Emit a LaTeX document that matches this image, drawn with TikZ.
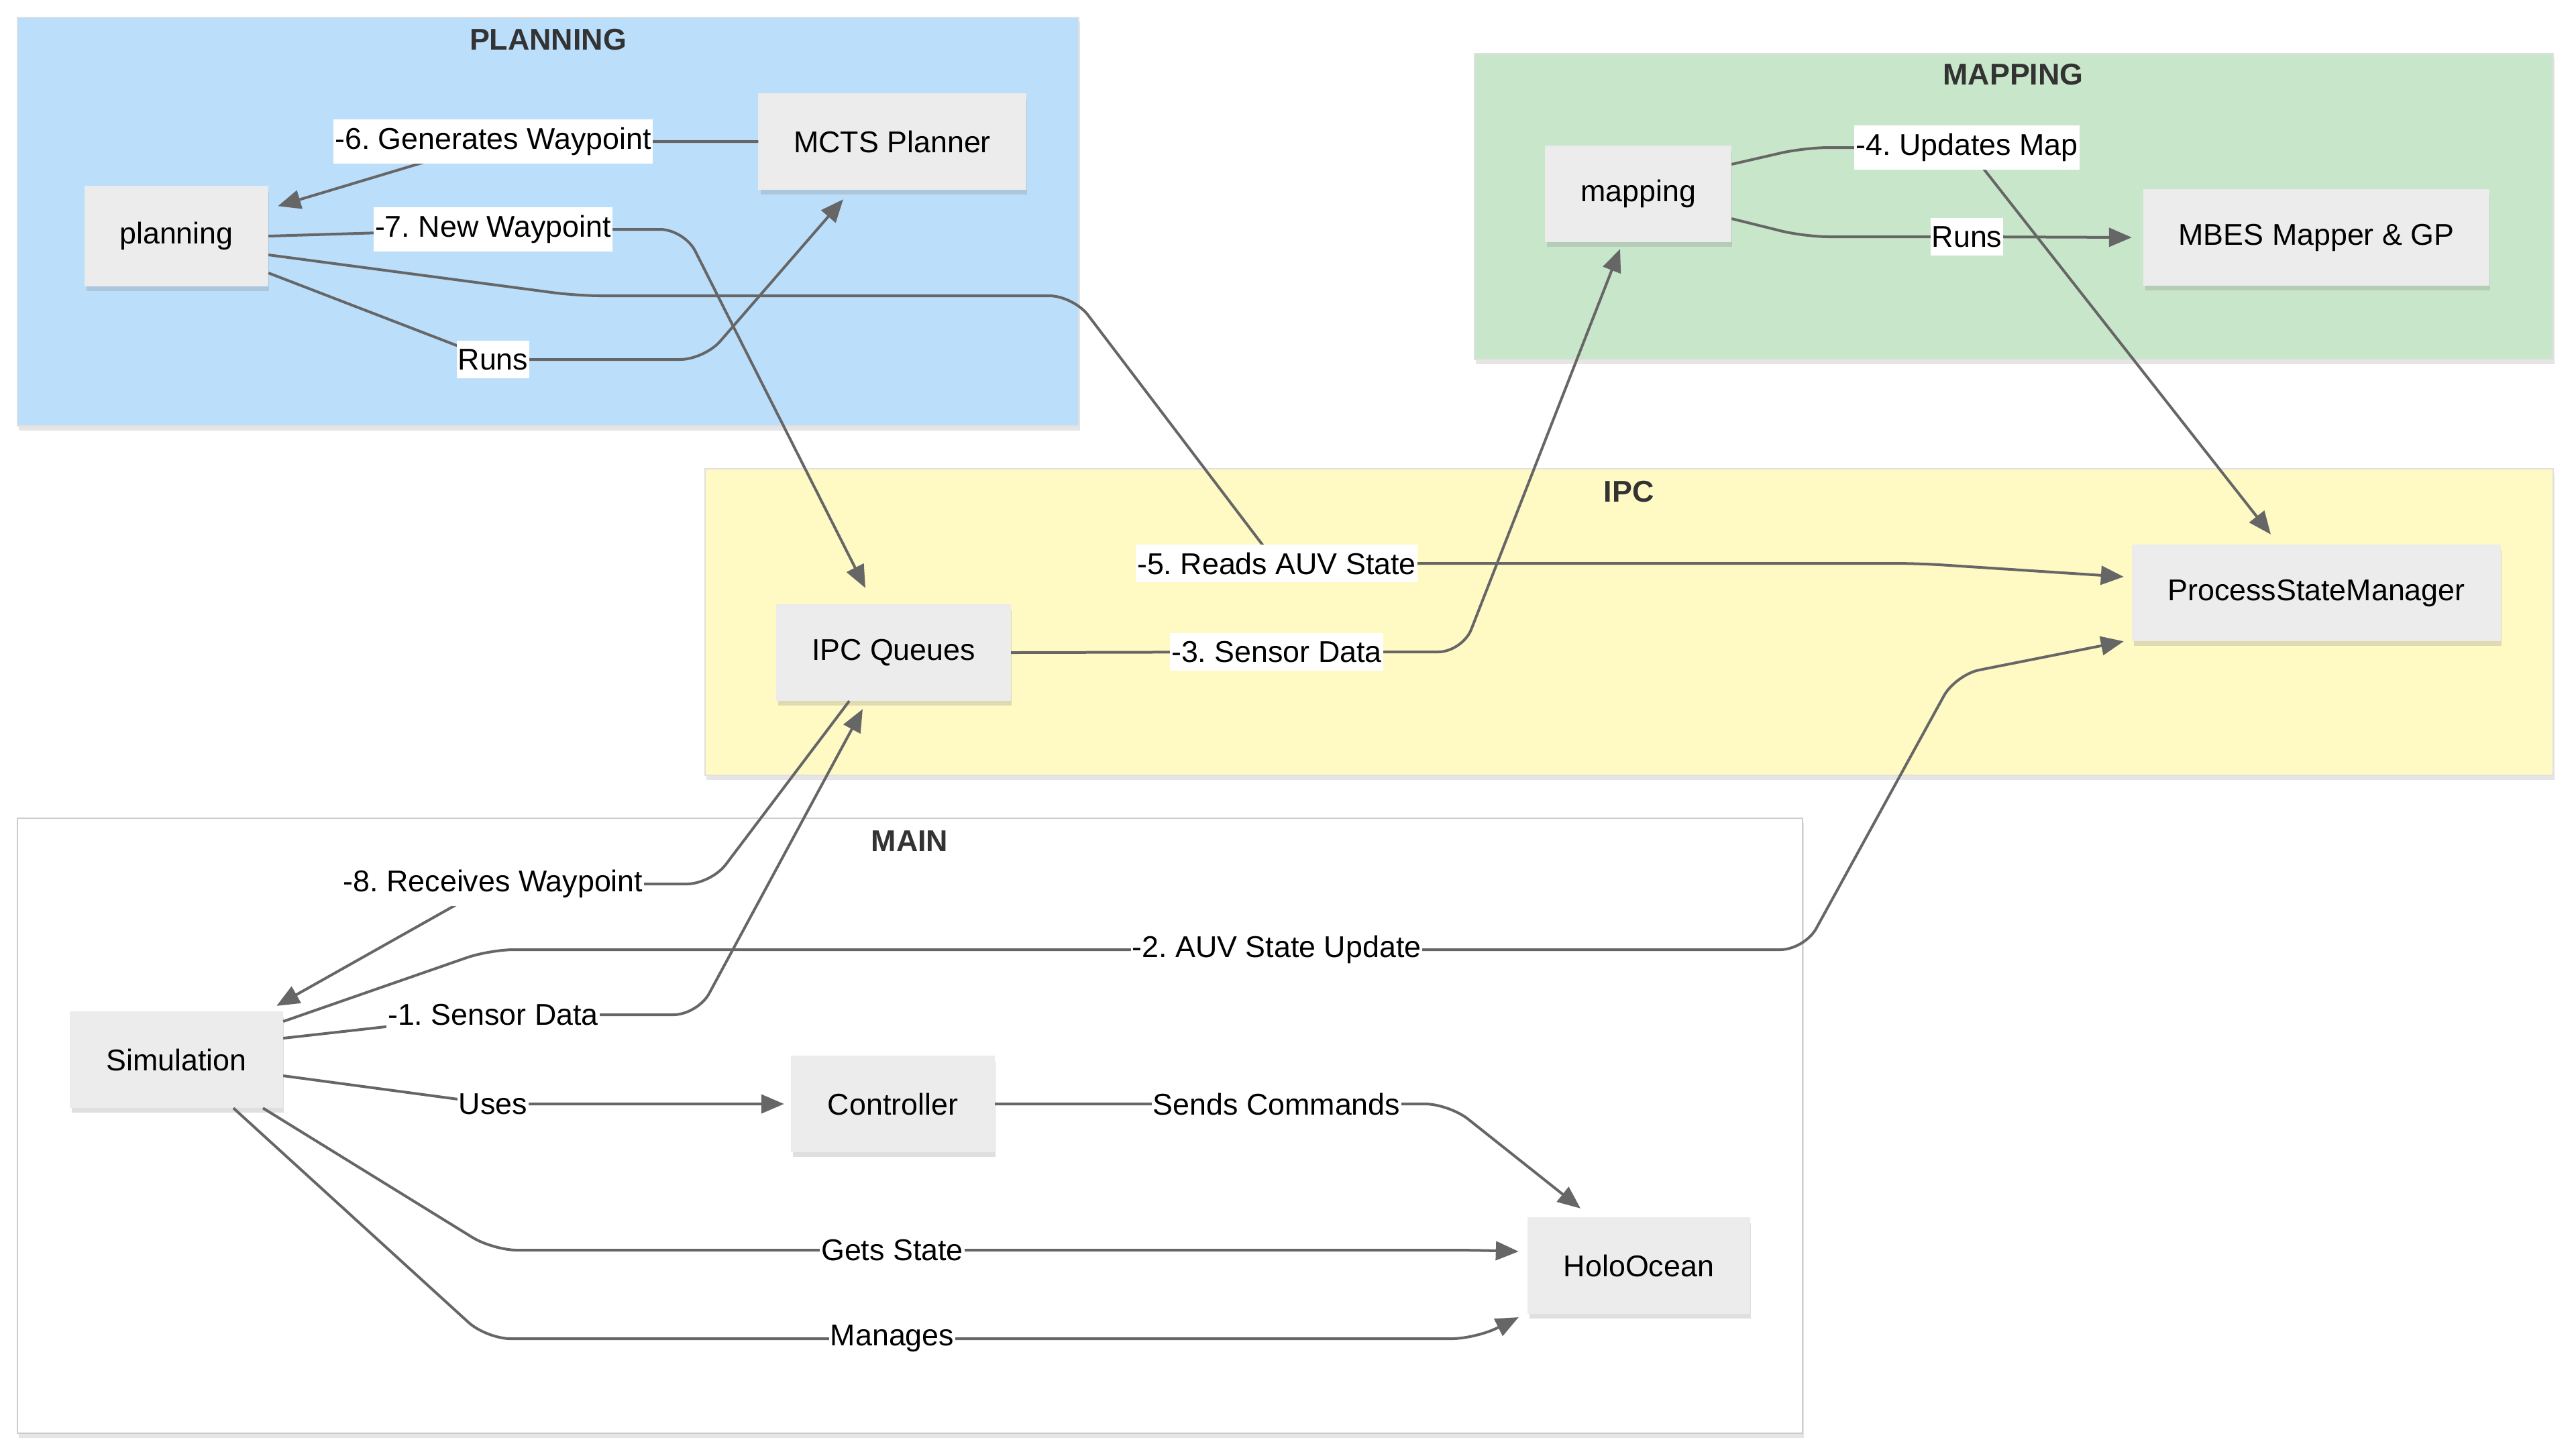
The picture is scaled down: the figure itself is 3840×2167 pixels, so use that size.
\documentclass[tikz,border=0pt]{standalone}
\usepackage{fontspec}
\setmainfont{Liberation Sans}
\usetikzlibrary{arrows.meta,shadows}
\definecolor{planbg}{HTML}{BBDEFB}
\definecolor{mapbg}{HTML}{C8E6C9}
\definecolor{ipcbg}{HTML}{FFF9C4}
\definecolor{nodebg}{HTML}{ECECEC}
\definecolor{edgecol}{HTML}{666666}
\definecolor{titlecol}{HTML}{333333}
\frenchspacing
\begin{document}
\begin{tikzpicture}[x=0.25pt,y=-0.25pt,
  cluster/.style={draw=black!12, line width=0.6pt, drop shadow={shadow xshift=0.6pt,shadow yshift=-1.8pt,opacity=0.2}},
  ctitle/.style={font=\fontsize{11.2}{13}\selectfont\bfseries, text=titlecol},
  box/.style={draw=black!8, line width=0.6pt, fill=nodebg, font=\fontsize{11.2}{13}\selectfont, minimum height=35.5pt, inner sep=0pt, drop shadow={shadow xshift=0.6pt,shadow yshift=-2pt,opacity=0.25}},
  edge/.style={draw=edgecol, line width=1pt, rounded corners=9pt, -{Triangle[length=8.5pt,width=7pt]}},
  lbl/.style={fill=white, sharp corners, inner xsep=0.5pt, inner ysep=3pt, font=\fontsize{11.2}{13}\selectfont, text=black}
]
\useasboundingbox (0,0) rectangle (3840,2167);
\fill[white] (0,0) rectangle (3840,2167);

% clusters
\path[cluster, fill=planbg] (26,26) rectangle (1608,635);
\path[cluster, fill=mapbg] (2198,80) rectangle (3806,536);
\path[cluster, fill=ipcbg] (1051,699) rectangle (3806,1156);
\path[cluster, fill=white, draw=black!20] (26,1220) rectangle (2687,2137);
\node[ctitle] (tplan) at (817,59) {PLANNING};
\node[ctitle] (tmap) at (3001,111) {MAPPING};
\node[ctitle] (tipc) at (2428,733) {IPC};
\node[ctitle] (tmain) at (1356,1254) {MAIN};

% nodes
\node[box, minimum width=99.25pt] (mcts) at (1330,211) {MCTS Planner};
\node[box, minimum width=68pt, minimum height=36.75pt] (planning) at (263,352) {planning};
\node[box, minimum width=69pt] (mapping) at (2442,289) {mapping};
\node[box, minimum width=128.5pt] (mbes) at (3453,354) {MBES Mapper \& GP};
\node[box, minimum width=87pt] (ipc) at (1332,973) {IPC Queues};
\node[box, minimum width=137pt] (psm) at (3453,884) {ProcessStateManager};
\node[box, minimum width=79pt] (sim) at (263,1580) {Simulation};
\node[box, minimum width=75.5pt] (ctrl) at (1331,1646) {Controller};
\node[box, minimum width=82.5pt] (holo) at (2443,1887) {HoloOcean};

% edges
\draw[edge] ([yshift=-13.75pt]planning.east) -- (735,536) node[lbl]{Runs} -- (1050,536) -- ([xshift=-18.25pt,yshift=-3.5pt]mcts.south);
\draw[edge] (mcts.west) -- (735,211) node[lbl]{-6. Generates Waypoint} -- ([xshift=3.5pt,yshift=-7.5pt]planning.north east);
\draw[edge] (planning.east) -- (735,342) node[lbl]{-7. New Waypoint} -- (1020,342) -- ([xshift=-10.5pt,yshift=6pt]ipc.north);
\draw[edge] ([yshift=-7pt]planning.east) -- (860,441) -- (1600,441) -- (1903,840) node[lbl]{-5. Reads AUV State} -- (2860,840) -- ([xshift=-3pt,yshift=6pt]psm.west);
\draw[edge] (ipc.east) -- (1903,972) node[lbl]{-3. Sensor Data} -- (2180,972) -- ([xshift=-6.75pt,yshift=-2.5pt]mapping.south);
\draw[edge] ([yshift=11pt]mapping.east) -- (2690,220) -- (2932,220) node[lbl]{-4. Updates Map} -- ([xshift=-17pt,yshift=3.75pt]psm.north);
\draw[edge] ([yshift=-9.25pt]mapping.east) -- (2690,353) -- (2932,353) node[lbl]{Runs} -- ([xshift=-4.25pt]mbes.west);
\draw[edge] ([xshift=-16.5pt]ipc.south) -- (1060,1318) -- (735,1318) node[lbl]{-8. Receives Waypoint} -- ([xshift=-2.5pt,yshift=2pt]sim.north east);
\draw[edge] ([yshift=8pt]sim.east) -- (735,1513) node[lbl]{-1. Sensor Data} -- (1040,1513) -- ([xshift=-11.5pt,yshift=-3pt]ipc.south);
\draw[edge] ([yshift=14.25pt]sim.east) -- (730,1416) -- (1903,1416) node[lbl]{-2. AUV State Update} -- (2690,1416) -- (2915,1006) -- ([xshift=-3pt]psm.south west);
\draw[edge] ([yshift=-6pt]sim.east) -- (735,1646) node[lbl]{Uses} -- ([xshift=-2.5pt]ctrl.west);
\draw[edge] (ctrl.east) -- (1903,1646) node[lbl]{Sends Commands} -- (2160,1646) -- ([xshift=-21.75pt,yshift=3.25pt]holo.north);
\draw[edge] ([xshift=32.25pt]sim.south) -- (735,1864) -- (1330,1864) node[lbl]{Gets State} -- (2200,1864) -- ([xshift=-3.25pt,yshift=5.25pt]holo.west);
\draw[edge] ([xshift=21.25pt]sim.south) -- (725,1996) -- (1330,1996) node[lbl]{Manages} -- (2200,1996) -- ([xshift=-3.25pt,yshift=-19.25pt]holo.west);
\end{tikzpicture}
\end{document}
